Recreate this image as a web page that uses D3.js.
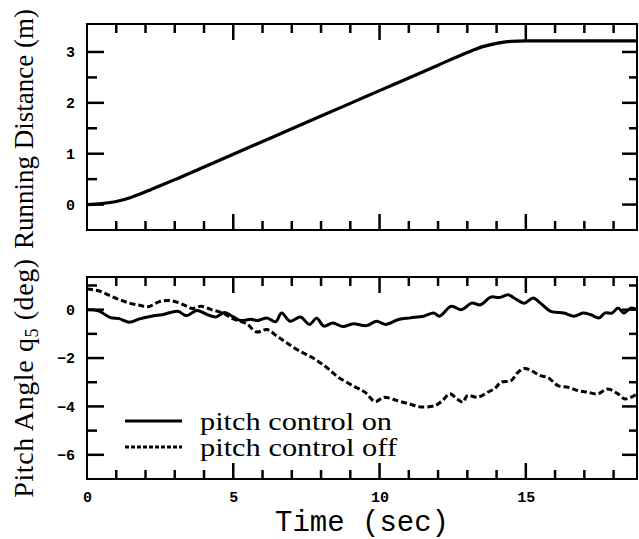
<!DOCTYPE html>
<html>
<head>
<meta charset="utf-8">
<script src="https://cdn.jsdelivr.net/npm/d3@7"></script>
<style>
  html, body { margin: 0; padding: 0; background: #fff; }
  svg { display: block; }
  .tick text { font-family: "Liberation Mono", monospace; font-weight: bold; font-size: 15px; fill: #000; }
</style>
</head>
<body>
<svg id="chart" width="639" height="539"></svg>
<script>
// --- DONNÉES ---
// distance parcourue (m)
const distTime = [0, 0.5, 1.0, 1.5, 2.0, 2.5, 3, 4, 5, 6, 7, 8, 9, 10, 11, 12, 13, 13.5, 14, 14.5, 15, 16, 17, 18, 18.8];
const distValue = [0, 0.02, 0.06, 0.14, 0.25, 0.37, 0.49, 0.74, 0.99, 1.24, 1.49, 1.74, 1.99, 2.24, 2.49, 2.74, 2.99, 3.1, 3.17, 3.21, 3.22, 3.22, 3.22, 3.22, 3.22];

// angle de tangage, contrôle actif
const onTime = [0, 0.4, 0.8, 1.1, 1.45, 1.8, 2.2, 2.6, 3.1, 3.4, 3.75, 4.1, 4.4, 4.7, 5.0, 5.25, 5.6, 5.85, 6.15, 6.45, 6.65, 6.95, 7.3, 7.6, 7.85, 8.1, 8.4, 8.75, 9.1, 9.55, 9.9, 10.2, 10.65, 11.05, 11.5, 11.85, 12.05, 12.45, 12.8, 13.15, 13.45, 13.8, 14.1, 14.4, 14.6, 14.95, 15.25, 15.5, 15.85, 16.3, 16.65, 16.95, 17.2, 17.5, 17.7, 17.95, 18.15, 18.35, 18.6, 18.8];
const onPitch = [0, -0.05, -0.33, -0.37, -0.52, -0.38, -0.27, -0.2, -0.07, -0.25, -0.03, -0.2, -0.3, -0.12, -0.3, -0.45, -0.4, -0.45, -0.34, -0.5, -0.14, -0.48, -0.3, -0.61, -0.36, -0.68, -0.55, -0.7, -0.58, -0.66, -0.48, -0.61, -0.41, -0.34, -0.27, -0.14, -0.27, 0.14, 0, 0.27, 0.2, 0.52, 0.5, 0.62, 0.48, 0.27, 0.48, 0.27, -0.07, -0.14, -0.27, -0.14, -0.2, -0.34, -0.14, -0.14, 0.07, -0.14, 0.07, 0];

// angle de tangage, contrôle coupé
const offTime = [0, 0.4, 0.75, 1.1, 1.45, 1.8, 2.1, 2.45, 2.8, 3.1, 3.4, 3.6, 3.9, 4.25, 4.6, 5.0, 5.45, 5.8, 6.15, 6.5, 6.8, 7.25, 7.7, 8.15, 8.6, 9.15, 9.5, 9.85, 10.15, 10.6, 11.0, 11.4, 11.9, 12.15, 12.4, 12.65, 12.85, 13.0, 13.35, 13.7, 13.95, 14.15, 14.5, 14.72, 14.95, 15.2, 15.5, 15.75, 16.1, 16.45, 16.8, 17.1, 17.45, 17.8, 18.15, 18.4, 18.8];
const offPitch = [0.85, 0.78, 0.6, 0.42, 0.27, 0.18, 0.12, 0.32, 0.38, 0.3, 0.15, 0.05, 0.14, 0, -0.12, -0.38, -0.58, -0.92, -0.82, -1.1, -1.35, -1.7, -1.98, -2.35, -2.8, -3.18, -3.41, -3.8, -3.62, -3.76, -3.89, -4.02, -3.96, -3.76, -3.48, -3.69, -3.82, -3.55, -3.62, -3.41, -3.25, -3.0, -2.93, -2.6, -2.43, -2.53, -2.73, -2.8, -3.14, -3.21, -3.35, -3.41, -3.48, -3.28, -3.48, -3.69, -3.48];

const xMinor = [1, 2, 3, 4, 6, 7, 8, 9, 11, 12, 13, 14, 16, 17, 18];
const xMajor = [5, 10, 15];
const xLabels = [0, 5, 10, 15];
const distMajor = [0, 1, 2, 3];
const distMinor = [0.5, 1.5, 2.5];
const pitchMajor = [-6, -4, -2, 0];
const pitchMinor = [-5, -3, -1, 1];
const legendLabels = ["pitch control on", "pitch control off"];

// --- MISE EN PAGE ---
const svg = d3.select("#chart");
const left = 87, right = 637;
const top1 = 24, bot1 = 230;
const top2 = 277, bot2 = 479;

const x = d3.scaleLinear().domain([0, 18.8]).range([left, right]);
const yDist = d3.scaleLinear().domain([-0.5, 3.55]).range([bot1, top1]);
const yPitch = d3.scaleLinear().domain([-7, 1.35]).range([bot2, top2]);

// graduations vers l'intérieur du cadre
function xTicks(g, vals, yEdge, len) {
    g.append("g").selectAll("line").data(vals).join("line")
        .attr("x1", d => x(d)).attr("x2", d => x(d))
        .attr("y1", yEdge).attr("y2", yEdge + len)
        .attr("stroke", "#000").attr("stroke-width", 2.5);
}
function yTicks(g, y, vals, xEdge, len) {
    g.append("g").selectAll("line").data(vals).join("line")
        .attr("y1", d => y(d)).attr("y2", d => y(d))
        .attr("x1", xEdge).attr("x2", xEdge + len)
        .attr("stroke", "#000").attr("stroke-width", 2.5);
}

function drawAxes(y, top, bot, major, minor, labelX) {
    const g = svg.append("g");
    xTicks(g, xMinor, bot, -9);
    xTicks(g, xMajor, bot, -16);
    xTicks(g, xMinor, top, 9);
    xTicks(g, xMajor, top, 16);
    yTicks(g, y, major, left, 17);
    yTicks(g, y, minor, left, 10);
    yTicks(g, y, major, right, -15);
    yTicks(g, y, minor, right, -8);

    // libellés via d3.axis (sans traits)
    const ya = g.append("g").attr("transform", `translate(${left},0)`)
        .call(d3.axisLeft(y).tickValues(major).tickSize(0).tickPadding(12)
            .tickFormat(d => d < 0 ? "\u2212" + Math.abs(d) : String(d)));
    ya.select(".domain").remove();
    if (labelX) {
        const xa = g.append("g").attr("transform", `translate(0,${bot})`)
            .call(d3.axisBottom(x).tickValues(xLabels).tickSize(0).tickPadding(12).tickFormat(d => String(d)));
        xa.select(".domain").remove();
    }
    // cadre
    g.append("rect").attr("x", left).attr("y", top).attr("width", right - left).attr("height", bot - top)
        .attr("fill", "none").attr("stroke", "#000").attr("stroke-width", 2);
}

drawAxes(yDist, top1, bot1, distMajor, distMinor, false);
drawAxes(yPitch, top2, bot2, pitchMajor, pitchMinor, true);

// --- COURBES ---
const curve = d3.curveCatmullRom.alpha(0.5);
const lineDist = d3.line().x(i => x(distTime[i])).y(i => yDist(distValue[i])).curve(d3.curveMonotoneX);
svg.append("path").attr("d", lineDist(d3.range(distTime.length)))
    .attr("fill", "none").attr("stroke", "#000").attr("stroke-width", 3.2);

const lineOn = d3.line().x(i => x(onTime[i])).y(i => yPitch(onPitch[i])).curve(curve);
svg.append("path").attr("d", lineOn(d3.range(onTime.length)))
    .attr("fill", "none").attr("stroke", "#000").attr("stroke-width", 3);

const lineOff = d3.line().x(i => x(offTime[i])).y(i => yPitch(offPitch[i])).curve(curve);
svg.append("path").attr("d", lineOff(d3.range(offTime.length)))
    .attr("fill", "none").attr("stroke", "#000").attr("stroke-width", 3).attr("stroke-dasharray", "6,3");

// --- LÉGENDE ---
const legend = svg.append("g");
legendLabels.forEach((lab, i) => {
    const ly = 421 + i * 26;
    legend.append("line").attr("x1", 125).attr("x2", 182).attr("y1", ly).attr("y2", ly)
        .attr("stroke", "#000").attr("stroke-width", 3)
        .attr("stroke-dasharray", i === 1 ? "4,2" : null);
    legend.append("text").attr("x", 200).attr("y", ly + 9)
        .attr("textLength", i === 0 ? 192 : 197).attr("lengthAdjust", "spacingAndGlyphs")
        .style("font-family", "Liberation Serif").style("font-size", "25px").text(lab);
});

// --- TITRES ---
svg.append("text").attr("x", 362).attr("y", 531).attr("text-anchor", "middle")
    .style("font-family", "Liberation Mono").style("font-size", "29px").text("Time (sec)");

svg.append("text").attr("transform", `translate(33,129) rotate(-90)`)
    .attr("text-anchor", "middle")
    .style("font-family", "Liberation Serif").style("font-size", "27px")
    .text("Running Distance (m)");

const t2 = svg.append("text").attr("transform", `translate(33,${(top2 + bot2) / 2}) rotate(-90)`)
    .attr("text-anchor", "middle")
    .style("font-family", "Liberation Serif").style("font-size", "28px").style("letter-spacing", "0.6px");
t2.append("tspan").text("Pitch Angle q");
t2.append("tspan").attr("dy", 5).style("font-size", "18px").text("5");
t2.append("tspan").attr("dy", -5).text(" (deg)");
</script>
</body>
</html>
